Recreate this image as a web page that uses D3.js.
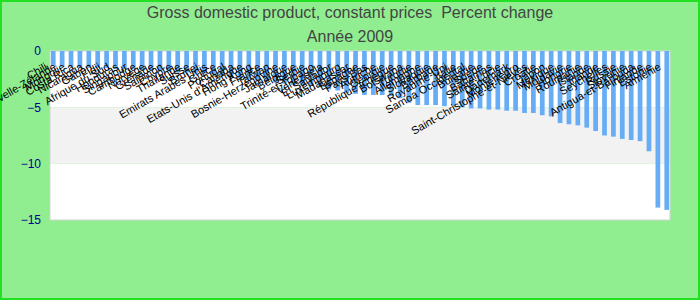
<!DOCTYPE html>
<html>
<head>
<meta charset="utf-8">
<script src="https://cdn.jsdelivr.net/npm/d3@7"></script>
<style>
  body { margin: 0; background: #90ee90; }
  text { font-family: "Liberation Sans", Arial, sans-serif; }
</style>
</head>
<body>
<svg id="mainsvg" width="700" height="300"></svg>
<script>
// pays, tries du moins negatif au plus negatif
const countries = [
  "Chili", "Nouvelle-Zélande", "Mongolie", "Costa Rica", "Nicaragua", "Gabon", "Fidji",
  "Afrique du Sud", "Honduras", "Singapour", "Cambodge", "Norvège", "Grenade", "Salomon",
  "Chypre", "Thaïlande", "Suisse", "Brunei", "Emirats Arabes Unis", "Grèce", "Portugal",
  "Canada", "Etats-Unis d'Amérique", "Hong Kong", "France", "Taïwan", "Bosnie-Herzégovine",
  "Jamaïque", "Belgique", "Serbie", "Trinité-et-Tobago", "Venezuela", "El Salvador",
  "Luxembourg", "Madagascar", "Espagne", "Pays-Bas", "Autriche", "Géorgie",
  "République tchèque", "Botswana", "Turquie", "Allemagne", "Slovaquie", "Barbade",
  "Royaume-Uni", "Italie", "Samoa Occidental", "Bulgarie", "Suède", "Bahamas",
  "Sainte-Lucie", "Danemark", "Monténégro", "Saint-Christophe-et-Niévès", "Croatie",
  "Japon", "Mexique", "Moldavie", "Hongrie", "Roumanie", "Islande", "Irlande",
  "Seychelles", "Russie", "Slovénie", "Antigua-et-Barbuda", "Finlande", "Estonie", "Arménie"
];
const growth = [
  -1.3, -1.4, -1.4, -1.5, -1.5, -1.5, -1.5, -1.6, -1.6, -1.6, -1.7, -1.7, -1.8, -1.8,
  -1.9, -1.9, -2.0, -2.0, -2.1, -2.2, -2.3, -2.4, -2.5, -2.6, -2.7, -2.8, -2.9, -3.0,
  -3.0, -3.1, -3.2, -3.4, -3.5, -3.7, -3.8, -3.9, -3.9, -3.9, -4.0, -4.2, -4.6, -4.8,
  -4.8, -4.8, -4.9, -4.9, -5.0, -5.1, -5.1, -5.2, -5.2, -5.3, -5.3, -5.5, -5.5, -5.7,
  -5.8, -6.4, -6.5, -6.6, -6.8, -7.1, -7.5, -7.6, -7.8, -7.9, -8.0, -8.9, -13.9, -14.1
];
const yTicks = [0, -5, -10, -15];
const bands = [[0, -5], [-5, -10], [-10, -15]];

const svg = d3.select('#mainsvg');
const width = +svg.attr('width');
const height = +svg.attr('height');
const plot = { left: 50, right: 670, top: 51, bottom: 220 };

svg.append('rect')
  .attr('x', 1).attr('y', 1)
  .attr('width', width - 2).attr('height', height - 2)
  .attr('fill', '#90ee90')
  .attr('stroke', '#22e022').attr('stroke-width', 2);

svg.append('text')
  .attr('x', width / 2).attr('y', 18)
  .attr('text-anchor', 'middle')
  .attr('font-size', 16).attr('fill', '#444')
  .style('white-space', 'pre')
  .text('Gross domestic product, constant prices  Percent change');
svg.append('text')
  .attr('x', width / 2).attr('y', 42)
  .attr('text-anchor', 'middle')
  .attr('font-size', 16).attr('fill', '#444')
  .text('Année 2009');

const x = d3.scaleBand()
  .domain(countries)
  .range([plot.left, plot.right])
  .paddingInner(0.47)
  .paddingOuter(0.1);
const y = d3.scaleLinear()
  .domain([0, -15])
  .range([plot.top, plot.bottom]);

const g = svg.append('g');

g.selectAll('.band')
  .data(bands)
  .join('rect')
  .attr('class', 'band')
  .attr('x', plot.left)
  .attr('y', d => y(d[0]))
  .attr('width', plot.right - plot.left)
  .attr('height', d => y(d[1]) - y(d[0]))
  .attr('fill', (d, i) => i % 2 ? '#f2f2f2' : '#fff');

g.append('rect')
  .attr('x', plot.left).attr('y', plot.top)
  .attr('width', plot.right - plot.left)
  .attr('height', plot.bottom - plot.top)
  .attr('fill', 'none')
  .attr('stroke', '#d4d4d4');

g.selectAll('.bar')
  .data(countries)
  .join('rect')
  .attr('class', 'bar')
  .attr('x', d => x(d))
  .attr('y', y(0))
  .attr('width', x.bandwidth())
  .attr('height', (d, i) => y(growth[i]) - y(0))
  .attr('fill', '#66adf5');

const yAxis = d3.axisLeft(y).tickValues(yTicks).tickSize(0).tickPadding(9);
const ga = svg.append('g')
  .attr('transform', `translate(${plot.left},0)`)
  .call(yAxis);
ga.select('.domain').remove();
ga.selectAll('text')
  .attr('font-size', 12)
  .attr('fill', '#00008b');

g.selectAll('.label')
  .data(countries)
  .join('text')
  .attr('class', 'label')
  .attr('text-anchor', 'end')
  .attr('font-size', 11)
  .attr('fill', '#000')
  .attr('transform', d => `translate(${x(d) + x.bandwidth() / 2 - 5},${plot.top + 18}) rotate(-30)`)
  .text(d => d);
</script>
</body>
</html>
